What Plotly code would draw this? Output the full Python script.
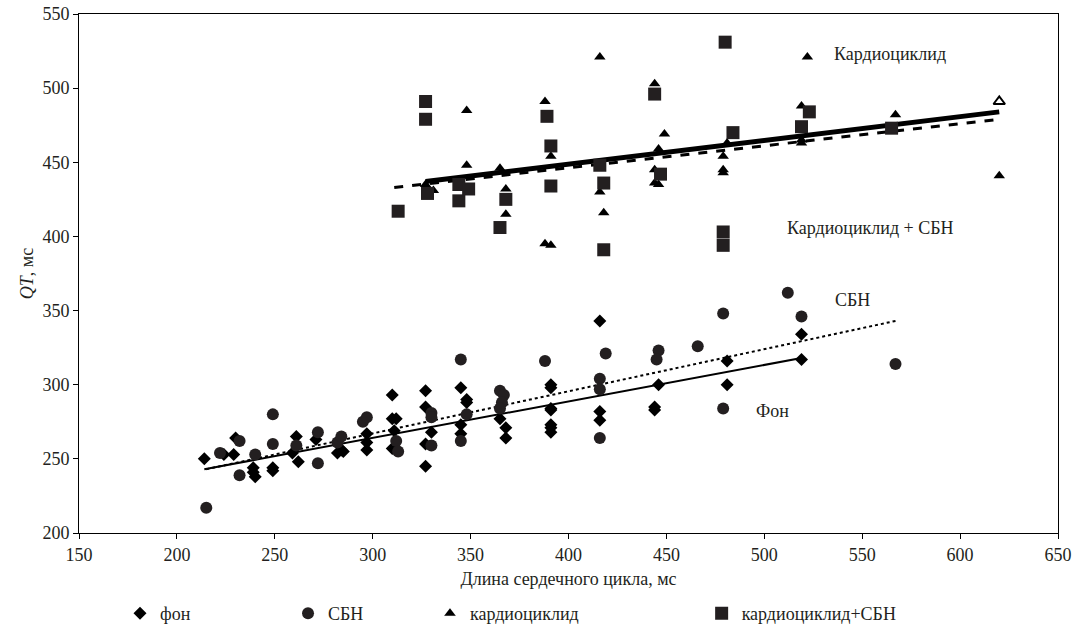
import plotly.graph_objects as go

# ---- data ----
fon_x = [214, 224, 229, 230, 239, 239, 240, 249, 249, 261, 259, 262, 271, 282, 284, 285,
         297, 297, 297, 310, 310, 312, 311, 310, 327, 327, 330, 327, 327, 345, 348, 348,
         345, 345, 365, 368, 368, 391, 391, 391, 391, 391, 391, 391, 416, 416, 416, 446,
         444, 444, 481, 481, 519, 519]
fon_y = [250, 253, 253, 264, 244, 241, 238, 244, 242, 265, 254, 248, 263, 254, 256, 255,
         267, 261, 256, 293, 277, 277, 269, 257, 296, 285, 268, 260, 245, 298, 290, 288,
         273, 267, 277, 271, 264, 300, 298, 284, 283, 273, 271, 268, 343, 282, 276, 300,
         285, 283, 316, 300, 334, 317]

sbn_x = [215, 222, 232, 232, 240, 249, 249, 261, 272, 272, 282, 284, 295, 297, 312, 313,
         330, 330, 330, 345, 348, 345, 365, 367, 366, 365, 388, 416, 416, 416, 419, 446,
         445, 466, 479, 479, 512, 519, 567]
sbn_y = [217, 254, 262, 239, 253, 280, 260, 259, 268, 247, 261, 265, 275, 278, 262, 255,
         281, 278, 259, 317, 280, 262, 296, 293, 288, 284, 316, 304, 297, 264, 321, 323,
         317, 326, 348, 284, 362, 346, 314]

cardio_x = [327, 331, 348, 348, 365, 368, 368, 388, 391, 388, 391, 416, 416, 418, 444, 449,
            446, 444, 444, 446, 479, 479, 479, 481, 522, 519, 519, 519, 567, 620, 620]
cardio_y = [435, 431, 485, 448, 446, 432, 415, 491, 454, 395, 394, 521, 430, 416, 503, 469,
            459, 445, 436, 435, 454, 445, 443, 463, 521, 488, 465, 463, 482, 491, 441]

csbn_x = [313, 327, 327, 328, 344, 349, 344, 365, 368, 389, 391, 391, 416, 418, 418, 444,
          447, 480, 479, 479, 484, 519, 523, 565]
csbn_y = [417, 491, 479, 429, 435, 432, 424, 406, 425, 481, 461, 434, 448, 436, 391, 496,
          442, 531, 403, 394, 470, 474, 484, 473]

# trend lines (end points)
fon_trend_x = [214, 519]
fon_trend_y = [243, 318]
sbn_trend_x = [215, 567]
sbn_trend_y = [243, 343]
cardio_trend_x = [327, 620]
cardio_trend_y = [437, 484]
csbn_trend_x = [311, 620]
csbn_trend_y = [433, 479]

x_ticks = [150, 200, 250, 300, 350, 400, 450, 500, 550, 600, 650]
y_ticks = [200, 250, 300, 350, 400, 450, 500, 550]

FONT = "Liberation Serif"
DARK = "#231f20"

# one triangle in the reference is drawn hollow (last-but-one point, x=620)
cardio_fill = ["black"] * len(cardio_x)
cardio_lw = [0] * len(cardio_x)
cardio_fill[29] = "white"
cardio_lw[29] = 2

fig = go.Figure()

# trend lines
fig.add_trace(go.Scatter(x=fon_trend_x, y=fon_trend_y, mode="lines",
                         line=dict(color="black", width=2), showlegend=False, hoverinfo="skip"))
fig.add_trace(go.Scatter(x=sbn_trend_x, y=sbn_trend_y, mode="lines",
                         line=dict(color="black", width=2, dash="dot"), showlegend=False, hoverinfo="skip"))
fig.add_trace(go.Scatter(x=cardio_trend_x, y=cardio_trend_y, mode="lines",
                         line=dict(color="black", width=5), showlegend=False, hoverinfo="skip"))
fig.add_trace(go.Scatter(x=csbn_trend_x, y=csbn_trend_y, mode="lines",
                         line=dict(color="black", width=3, dash="dash"), showlegend=False, hoverinfo="skip"))

# markers
fig.add_trace(go.Scatter(x=fon_x, y=fon_y, mode="markers", name="фон", legend="legend",
                         marker=dict(symbol="diamond", size=10, color="black")))
fig.add_trace(go.Scatter(x=sbn_x, y=sbn_y, mode="markers", name="СБН", legend="legend2",
                         marker=dict(symbol="circle", size=12, color=DARK)))
fig.add_trace(go.Scatter(x=cardio_x, y=cardio_y, mode="markers", name="кардиоциклид", legend="legend3",
                         marker=dict(symbol="triangle-up", size=10, color=cardio_fill,
                                     line=dict(color="black", width=cardio_lw))))
fig.add_trace(go.Scatter(x=csbn_x, y=csbn_y, mode="markers", name="кардиоциклид+СБН", legend="legend4",
                         marker=dict(symbol="square", size=13, color=DARK)))

ann_font = dict(family=FONT, size=18, color="#231f20")
annotations = [
    dict(x=564, y=523, text="Кардиоциклид", showarrow=False, font=ann_font),
    dict(x=554, y=406, text="Кардиоциклид + СБН", showarrow=False, font=ann_font),
    dict(x=545, y=357, text="СБН", showarrow=False, font=ann_font),
    dict(x=504, y=282, text="Фон", showarrow=False, font=ann_font),
]

leg_common = dict(orientation="h", yanchor="middle", xanchor="left",
                  yref="container", y=0.026,
                  font=dict(family=FONT, size=18, color="#231f20"),
                  bgcolor="rgba(0,0,0,0)", itemsizing="trace")

fig.update_layout(
    width=1078, height=630,
    margin=dict(l=79, r=20, t=14, b=97, autoexpand=False),
    paper_bgcolor="white", plot_bgcolor="white",
    font=dict(family=FONT, size=18, color="#231f20"),
    annotations=annotations,
    legend=dict(x=0.0419, **leg_common),
    legend2=dict(x=0.2135, **leg_common),
    legend3=dict(x=0.3585, **leg_common),
    legend4=dict(x=0.636, **leg_common),
    xaxis=dict(range=[150, 650], tickvals=x_ticks, showgrid=False, zeroline=False,
               showline=True, linecolor="black", linewidth=1, mirror=True,
               ticks="outside", ticklen=5, tickcolor="black", automargin=False,
               tickfont=dict(family=FONT, size=18),
               title=dict(text="Длина сердечного цикла, мс", font=dict(family=FONT, size=18), standoff=8)),
    yaxis=dict(range=[200, 550], tickvals=y_ticks, showgrid=False, zeroline=False,
               showline=True, linecolor="black", linewidth=1, mirror=True,
               ticks="outside", ticklen=5, tickcolor="black", automargin=False,
               tickfont=dict(family=FONT, size=18),
               title=dict(text="<i>QT</i>, мс", font=dict(family=FONT, size=18), standoff=4)),
)

fig.write_html("out.html")
